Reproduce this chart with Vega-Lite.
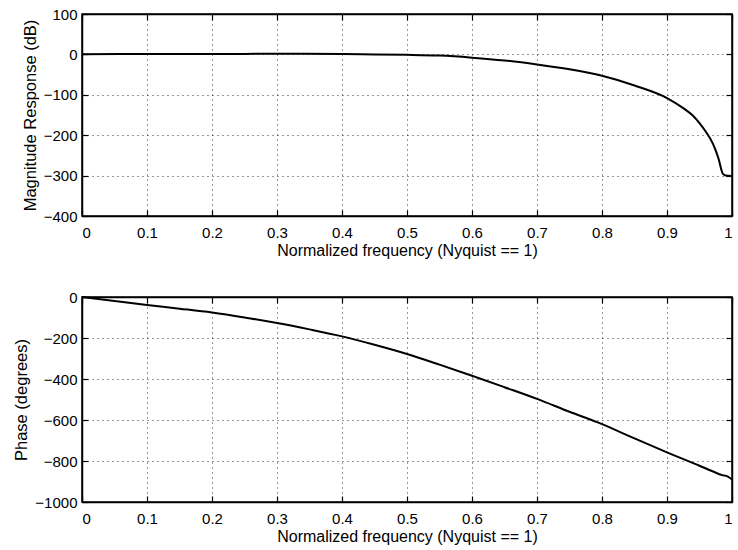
{
  "$schema": "https://vega.github.io/schema/vega-lite/v6.json",
  "background": "white",
  "padding": {"left": 13, "top": 6, "right": 0, "bottom": 0},
  "spacing": 30,
  "config": {
    "font": "Liberation Sans",
    "view": {"stroke": "black", "strokeWidth": 1.5},
    "axis": {
      "domainColor": "black",
      "domainWidth": 1.5,
      "tickColor": "black",
      "tickWidth": 1.2,
      "tickSize": -6,
      "labelColor": "black",
      "labelFont": "Liberation Sans",
      "labelFontSize": 15,
      "titleFont": "Liberation Sans",
      "titleFontWeight": "normal",
      "titleColor": "black",
      "gridColor": "black",
      "gridDash": [1, 4],
      "gridWidth": 1,
      "gridOpacity": 0.8
    },
    "axisX": {"labelPadding": 15, "titleFontSize": 16, "titlePadding": 2},
    "axisY": {"labelPadding": 11, "titleFontSize": 16.5, "titlePadding": 5}
  },
  "datasets": {
    "mag": [
      {"f": 0.0, "db": 0.5},
      {"f": 0.1, "db": 1},
      {"f": 0.2, "db": 1},
      {"f": 0.3, "db": 1.5},
      {"f": 0.4, "db": 1},
      {"f": 0.45, "db": 0},
      {"f": 0.5, "db": -1},
      {"f": 0.55, "db": -3},
      {"f": 0.6, "db": -8},
      {"f": 0.65, "db": -15},
      {"f": 0.7, "db": -25},
      {"f": 0.75, "db": -37},
      {"f": 0.8, "db": -53},
      {"f": 0.85, "db": -77},
      {"f": 0.9, "db": -108},
      {"f": 0.925, "db": -133},
      {"f": 0.94, "db": -152},
      {"f": 0.95, "db": -170},
      {"f": 0.96, "db": -192},
      {"f": 0.97, "db": -219},
      {"f": 0.975, "db": -238},
      {"f": 0.98, "db": -262},
      {"f": 0.983, "db": -282},
      {"f": 0.986, "db": -296},
      {"f": 0.99, "db": -300},
      {"f": 1.0, "db": -301}
    ],
    "phase": [
      {"f": 0.0, "deg": 0},
      {"f": 0.05, "deg": -19},
      {"f": 0.1, "deg": -39},
      {"f": 0.15, "deg": -57},
      {"f": 0.2, "deg": -76},
      {"f": 0.25, "deg": -100},
      {"f": 0.3, "deg": -127},
      {"f": 0.35, "deg": -158},
      {"f": 0.4, "deg": -192},
      {"f": 0.45, "deg": -233},
      {"f": 0.5, "deg": -278},
      {"f": 0.55, "deg": -330},
      {"f": 0.6, "deg": -384},
      {"f": 0.65, "deg": -440},
      {"f": 0.7, "deg": -497},
      {"f": 0.75, "deg": -560},
      {"f": 0.8, "deg": -620},
      {"f": 0.85, "deg": -690},
      {"f": 0.9, "deg": -758},
      {"f": 0.95, "deg": -823},
      {"f": 0.97, "deg": -850},
      {"f": 0.985, "deg": -869},
      {"f": 0.993, "deg": -875},
      {"f": 1.0, "deg": -890}
    ]
  },
  "vconcat": [
    {
      "width": 650,
      "height": 202,
      "data": {"name": "mag"},
      "resolve": {"axis": {"x": "independent", "y": "independent"}},
      "layer": [
        {
          "mark": {"type": "line", "color": "black", "strokeWidth": 2, "interpolate": "monotone"},
          "encoding": {
            "x": {"field": "f", "type": "quantitative", "scale": {"domain": [0, 1], "nice": false},
              "axis": {"title": "Normalized frequency (Nyquist == 1)", "values": [0, 0.1, 0.2, 0.3, 0.4, 0.5, 0.6, 0.7, 0.8, 0.9, 1], "format": "~g"}},
            "y": {"field": "db", "type": "quantitative", "scale": {"domain": [-400, 100], "nice": false},
              "axis": {"title": "Magnitude Response (dB)", "values": [-400, -300, -200, -100, 0, 100], "format": "d"}}
          }
        },
        {
          "mark": {"type": "line", "opacity": 0},
          "encoding": {
            "x": {"field": "f", "type": "quantitative",
              "axis": {"orient": "top", "title": null, "labels": false, "grid": false, "values": [0, 0.1, 0.2, 0.3, 0.4, 0.5, 0.6, 0.7, 0.8, 0.9, 1]}},
            "y": {"field": "db", "type": "quantitative",
              "axis": {"orient": "right", "title": null, "labels": false, "grid": false, "values": [-400, -300, -200, -100, 0, 100]}}
          }
        }
      ]
    },
    {
      "width": 650,
      "height": 205,
      "data": {"name": "phase"},
      "resolve": {"axis": {"x": "independent", "y": "independent"}},
      "layer": [
        {
          "mark": {"type": "line", "color": "black", "strokeWidth": 2, "interpolate": "monotone"},
          "encoding": {
            "x": {"field": "f", "type": "quantitative", "scale": {"domain": [0, 1], "nice": false},
              "axis": {"title": "Normalized frequency (Nyquist == 1)", "values": [0, 0.1, 0.2, 0.3, 0.4, 0.5, 0.6, 0.7, 0.8, 0.9, 1], "format": "~g"}},
            "y": {"field": "deg", "type": "quantitative", "scale": {"domain": [-1000, 0], "nice": false},
              "axis": {"title": "Phase (degrees)", "values": [-1000, -800, -600, -400, -200, 0], "format": "d"}}
          }
        },
        {
          "mark": {"type": "line", "opacity": 0},
          "encoding": {
            "x": {"field": "f", "type": "quantitative",
              "axis": {"orient": "top", "title": null, "labels": false, "grid": false, "values": [0, 0.1, 0.2, 0.3, 0.4, 0.5, 0.6, 0.7, 0.8, 0.9, 1]}},
            "y": {"field": "deg", "type": "quantitative",
              "axis": {"orient": "right", "title": null, "labels": false, "grid": false, "values": [-1000, -800, -600, -400, -200, 0]}}
          }
        }
      ]
    }
  ]
}
